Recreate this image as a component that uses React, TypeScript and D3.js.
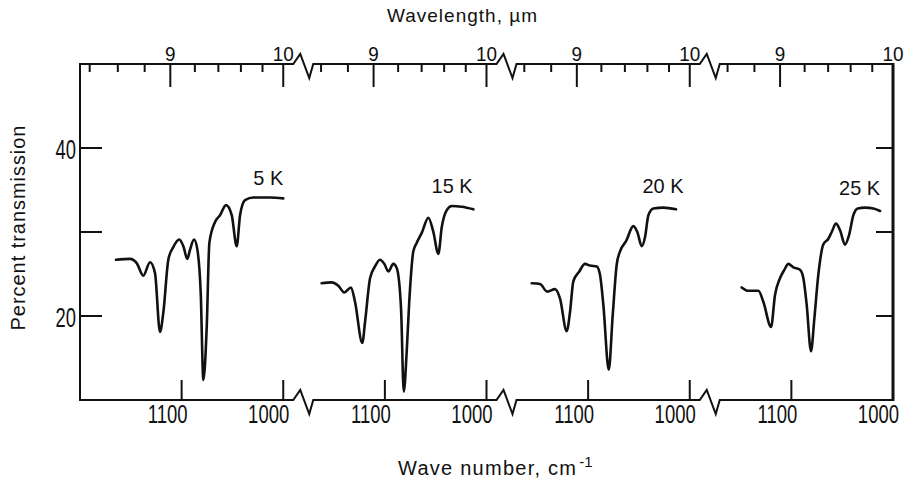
import React from 'react';
import * as d3 from 'd3';

type Pt = [number, number];

// ---- data (wave number cm^-1, percent transmission) ----
const spectrum5K: Pt[] = [
  [1164.6, 26.7], [1150.8, 26.8], [1144.2, 26.3], [1137.7, 24.8], [1131.1, 26.4], [1126.2, 25.1],
  [1121.3, 18.1], [1118.0, 20.4], [1113.1, 26.7], [1108.2, 28.2], [1102.3, 29.1], [1098.3, 28.3],
  [1094.4, 26.8], [1091.7, 27.9], [1087.8, 29.1], [1084.5, 27.9], [1081.2, 22.7], [1078.6, 12.4],
  [1075.3, 18.7], [1072.7, 28.7], [1067.1, 31.2], [1062.2, 32.0], [1056.3, 33.2], [1050.7, 32.0],
  [1045.8, 28.3], [1042.5, 32.0], [1037.6, 33.8], [1029.4, 34.1], [1013.0, 34.1], [1000.0, 34.0],
];
const spectrum15K: Pt[] = [
  [1162.2, 23.9], [1152.3, 24.0], [1145.8, 23.6], [1139.9, 22.8], [1133.3, 23.4], [1129.4, 21.7],
  [1122.2, 16.8], [1119.5, 19.3], [1114.6, 24.5], [1109.7, 25.9], [1104.8, 26.7], [1100.5, 26.2],
  [1096.6, 25.3], [1091.7, 26.2], [1088.3, 25.7], [1084.1, 20.9], [1081.4, 11.0], [1078.5, 15.8],
  [1076.2, 21.3], [1072.0, 27.7], [1068.7, 28.7], [1063.7, 29.9], [1057.2, 31.7], [1052.3, 30.0],
  [1047.4, 27.4], [1044.0, 30.6], [1039.1, 32.6], [1034.2, 33.1], [1024.4, 33.0], [1012.9, 32.7],
];
const spectrum20K: Pt[] = [
  [1155.5, 23.9], [1147.3, 23.8], [1140.2, 22.9], [1132.6, 23.2], [1127.7, 22.1], [1121.1, 18.2],
  [1117.8, 20.5], [1114.6, 24.1], [1108.7, 25.3], [1103.1, 26.2], [1098.1, 26.0], [1091.5, 25.9],
  [1088.3, 24.9], [1085.0, 21.3], [1079.7, 13.6], [1075.8, 20.1], [1071.9, 26.1], [1068.6, 27.7],
  [1062.7, 28.9], [1055.5, 30.7], [1051.6, 30.0], [1047.2, 28.3], [1044.0, 29.4], [1040.7, 32.0],
  [1035.8, 32.8], [1026.0, 32.9], [1013.5, 32.7],
];
const spectrum25K: Pt[] = [
  [1148.9, 23.4], [1142.4, 23.0], [1132.5, 23.0], [1127.6, 21.7], [1120.0, 18.7], [1116.1, 22.5],
  [1111.2, 24.5], [1106.9, 25.5], [1103.0, 26.2], [1098.1, 25.8], [1091.5, 25.5], [1088.2, 24.5],
  [1084.9, 21.3], [1080.7, 15.8], [1077.4, 19.7], [1073.5, 24.9], [1068.6, 28.5], [1063.6, 29.2],
  [1060.3, 30.0], [1056.1, 31.0], [1052.1, 30.2], [1047.2, 28.5], [1043.3, 29.6], [1039.0, 32.0],
  [1034.7, 32.8], [1027.5, 32.9], [1019.3, 32.8], [1012.7, 32.5],
];
const panelLabels = ['5 K', '15 K', '20 K', '25 K'];
const labelAnchors: Pt[] = [[1000, 35.6], [1013.7, 34.6], [1006.1, 34.7], [1012.7, 34.4]];

const waveNumberDomain = [1200, 1000];
const waveNumberTicks = [1100, 1000];
const wavelengthMajor = [9, 10];
const wavelengthMinor = [8.4, 8.6, 8.8, 9.2, 9.4, 9.6, 9.8];
const transmissionDomain = [10, 50];
const transmissionMajor = [40, 20];
const transmissionMinor = [30];

const FONT = "'Liberation Sans', Arial, sans-serif";
const INK = '#111';

function CText(props: { x: number; y: number; fs: number; sx: number; anchor?: string; children: React.ReactNode }) {
  const { x, y, fs, sx, anchor = 'middle', children } = props;
  return (
    <text transform={`translate(${x},${y}) scale(${sx},1)`} fontSize={fs} textAnchor={anchor}
      fontFamily={FONT} fill={INK}>{children}</text>
  );
}

export default function App() {
  const W = 906, H = 488;
  const left = 80, right = 893, top = 64, bottom = 400;
  const panelW = (right - left) / 4;
  const spectra = [spectrum5K, spectrum15K, spectrum20K, spectrum25K];

  const y = d3.scaleLinear().domain(transmissionDomain).range([bottom, top]);
  const xs = spectra.map((_, i) =>
    d3.scaleLinear().domain(waveNumberDomain).range([left + i * panelW, left + (i + 1) * panelW]));

  const zig: Pt[] = [[10, 0], [17, -10], [26, 14], [30, 0]];
  const boundaries = xs.slice(0, 3).map((x) => x(1000));
  const axisPts = (yy: number): Pt[] => {
    const pts: Pt[] = [[left, yy]];
    boundaries.forEach((b) => zig.forEach(([dx, dy]) => pts.push([b + dx, yy + dy])));
    pts.push([right, yy]);
    return pts;
  };
  const straight = d3.line<Pt>();

  const inBreak = (px: number) => boundaries.some((b) => px > b + 4 && px < b + 34);

  return (
    <svg width={W} height={H} style={{ position: 'absolute', left: 0, top: 0, background: '#fff' }}>
      <rect width={W} height={H} fill="#fff" />
      {/* frame */}
      <path d={straight(axisPts(top)) || ''} fill="none" stroke={INK} strokeWidth={2} />
      <path d={straight(axisPts(bottom)) || ''} fill="none" stroke={INK} strokeWidth={2} />
      <line x1={left} x2={left} y1={top - 1} y2={bottom + 1} stroke={INK} strokeWidth={2} />
      <line x1={right} x2={right} y1={top - 1} y2={bottom + 1} stroke={INK} strokeWidth={3} />

      {/* y ticks */}
      {transmissionMajor.concat(transmissionMinor).map((v) => (
        <g key={'yt' + v}>
          <line x1={left} x2={left + 22} y1={y(v)} y2={y(v)} stroke={INK} strokeWidth={2} />
          <line x1={right - 17} x2={right} y1={y(v)} y2={y(v)} stroke={INK} strokeWidth={2} />
        </g>
      ))}
      {transmissionMajor.map((v) => (
        <CText key={'yl' + v} x={76} y={y(v) + 10.5} fs={27} sx={0.68} anchor="end">{v}</CText>
      ))}

      {xs.map((x, i) => (
        <g key={'p' + i}>
          {/* bottom wave number ticks */}
          {waveNumberTicks.map((t) => (
            <g key={'b' + t}>
              <line x1={x(t)} x2={x(t)} y1={bottom} y2={bottom - 20} stroke={INK} strokeWidth={2} />
              <CText x={x(t) + 6} y={423} fs={25} sx={0.74} anchor="end">{t}</CText>
            </g>
          ))}
          {/* top wavelength ticks */}
          {wavelengthMinor.filter((l) => !inBreak(x(1e4 / l))).map((l) => (
            <line key={'tm' + l} x1={x(1e4 / l)} x2={x(1e4 / l)} y1={top} y2={top + 8} stroke={INK} strokeWidth={2} />
          ))}
          {wavelengthMajor.map((l) => (
            <g key={'tM' + l}>
              <line x1={x(1e4 / l)} x2={x(1e4 / l)} y1={top} y2={top + 23} stroke={INK} strokeWidth={2} />
              <CText x={x(1e4 / l)} y={61} fs={21} sx={0.9}>{l}</CText>
            </g>
          ))}
          {/* spectrum */}
          <path
            d={d3.line<Pt>().x((d) => x(d[0])).y((d) => y(d[1])).curve(d3.curveMonotoneX)(spectra[i]) || ''}
            fill="none" stroke={INK} strokeWidth={2.6} strokeLinejoin="round" strokeLinecap="round" />
          <CText x={x(labelAnchors[i][0])} y={y(labelAnchors[i][1])} fs={21} sx={0.95} anchor="end">
            {panelLabels[i]}
          </CText>
        </g>
      ))}

      {/* axis titles */}
      <text x={387} y={22} fontSize={19} fontFamily={FONT} fill={INK} textLength={150} lengthAdjust="spacing">
        Wavelength, µm
      </text>
      <text x={398} y={475} fontSize={20} fontFamily={FONT} fill={INK}>
        <tspan textLength={178} lengthAdjust="spacing">Wave number,  cm</tspan>
        <tspan dx={2} dy={-8} fontSize={15}>-1</tspan>
      </text>
      <text transform="translate(25,228) rotate(-90)" fontSize={20} fontFamily={FONT} fill={INK}
        textAnchor="middle" textLength={205} lengthAdjust="spacing">
        Percent transmission
      </text>
    </svg>
  );
}
